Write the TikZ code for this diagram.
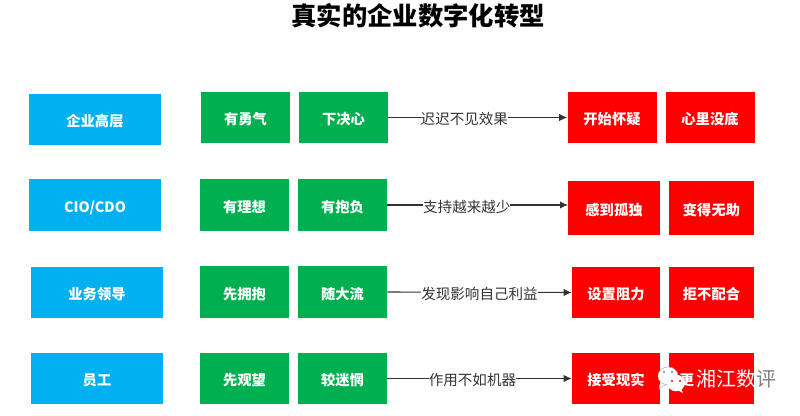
\documentclass[tikz,border=0pt]{standalone}
\usepackage{fontspec}
\usepackage{xcolor}
\usetikzlibrary{arrows.meta,positioning}
\setmainfont{Noto Sans CJK SC}
\definecolor{roleblue}{HTML}{00B0F0}
\definecolor{goodgreen}{HTML}{00B050}
\definecolor{badred}{HTML}{FF0000}
\definecolor{linkgrey}{HTML}{333333}
\definecolor{markgrey}{HTML}{808080}
\tikzset{
    box/.style={minimum height=38.6pt,inner sep=0pt,text height=11pt,text depth=0pt,text=white,font=\fontsize{10.7pt}{12pt}\selectfont\bfseries},
    rolebox/.style={box,fill=roleblue,minimum width=99pt},
    goodbox/.style={box,fill=goodgreen,minimum width=66.75pt},
    badbox/.style={box,fill=badred},
    link/.style={-{Latex[length=6pt,width=5.5pt]},linkgrey,line width=0.8pt},
    linklabel/.style={fill=white,inner sep=0pt,text height=11pt,text depth=0pt,text=linkgrey,font=\fontsize{10.9pt}{12pt}\selectfont},
    bubble/.style={draw=markgrey!60,fill=white,line width=0.4pt},
}
\begin{document}
\begin{tikzpicture}[x=0.75pt,y=-0.75pt]
    \useasboundingbox (0,0) rectangle (800,416);
    \node[font=\fontsize{19pt}{22pt}\selectfont\bfseries] (title) at (418,16) {真实的企业数字化转型};
    % row one
    \node[rolebox] (role1) at (95,119.5) {企业高层};
    \node[goodbox] (good1a) at (245.5,117.5) {有勇气};
    \node[goodbox] (good1b) at (343.5,117.5) {下决心};
    \node[badbox,minimum width=66.75pt] (bad1a) at (612,117.5) {开始怀疑};
    \node[badbox,minimum width=66.75pt] (bad1b) at (710,117.5) {心里没底};
    \draw[link] (good1b.east)--node[linklabel,pos=0.425]{迟迟不见效果}(bad1a.west);
    % row two
    \node[rolebox] (role2) at (95,205) {CIO/CDO};
    \node[goodbox] (good2a) at (244.5,205) {有理想};
    \node[goodbox] (good2b) at (342.5,205) {有抱负};
    \node[badbox,minimum width=69pt,minimum height=40.5pt] (bad2a) at (614,208) {感到孤独};
    \node[badbox,minimum width=63.75pt,minimum height=40.5pt] (bad2b) at (711.5,208) {变得无助};
    \coordinate (arrow2) at (568,205);
    \draw[link] (good2b.east)--node[linklabel,pos=0.44]{支持越来越少}(arrow2);
    % row three
    \node[rolebox] (role3) at (97,292.5) {业务领导};
    \node[goodbox] (good3a) at (244.5,292) {先拥抱};
    \node[goodbox] (good3b) at (342.5,292) {随大流};
    \node[badbox,minimum width=66pt] (bad3a) at (616,292.5) {设置阻力};
    \node[badbox,minimum width=63.75pt] (bad3b) at (711.5,292.5) {拒不配合};
    \draw[link] (good3b.east)--node[linklabel,pos=0.5]{发现影响自己利益}(bad3a.west);
    % row four
    \node[rolebox] (role4) at (97,378.5) {员工};
    \node[goodbox] (good4a) at (244.5,378.5) {先观望};
    \node[goodbox] (good4b) at (342.5,378.5) {较迷惘};
    \node[badbox,minimum width=66pt] (bad4a) at (616,378.5) {接受现实};
    \node[badbox,minimum width=63.75pt] (bad4b) at (711.5,378.5) {};
    \node[box,minimum height=0pt] (bad4btext) at (687,378.5) {更};
    \draw[link] (good4b.east)--node[linklabel,pos=0.462]{作用不如机器}(bad4a.west);
    % watermark
    \draw[bubble] (668,376) ellipse [x radius=10,y radius=9];
    \draw[bubble] (660,384)--(659,389)--(665,385);
    \fill[markgrey] (664,372) circle (1.1) (672,372) circle (1.1);
    \draw[bubble,draw=white] (676,383) ellipse [x radius=8.5,y radius=8];
    \fill[white] (681,388)--(683,393)--(677,390)--cycle;
    \fill[badred] (672,381) circle (1.2) (680,381) circle (1.2);
    \node[inner sep=0pt,font=\fontsize{15pt}{17pt}\selectfont,text=white] (mark) at (736,379) {湘江数{\color{markgrey}评}};
\end{tikzpicture}
\end{document}
